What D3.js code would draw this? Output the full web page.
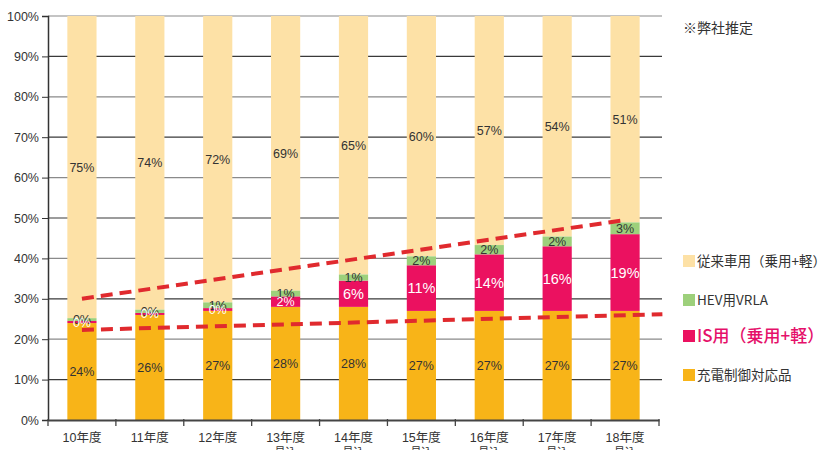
<!DOCTYPE html>
<html><head><meta charset="utf-8">
<script src="https://cdn.jsdelivr.net/npm/d3@7/dist/d3.min.js"></script>
<style>
html,body{margin:0;padding:0;background:#fff;}
svg{display:block;font-family:"Liberation Sans","Noto Sans CJK JP",sans-serif;}
</style></head>
<body><svg id="c" width="827" height="450"></svg>
<script>
const categories = ["10年度","11年度","12年度","13年度","14年度","15年度","16年度","17年度","18年度"];
const subLabels = ["","","","見込","見込","見込","見込","見込","見込"];
const chargeCtrl = [24,26,27,28,28,27,27,27,27];
const isUse = [0.5,0.5,0.7,2.6,6.5,11.3,14,16,19];
const isLabels = ["0%","0%","0%","2%","6%","11%","14%","16%","19%"];
const hevVrla = [0.7,0.8,1.4,1.4,1.5,2.2,2.3,2.4,2.9];
const hevLabels = ["0%","0%","1%","1%","1%","2%","2%","2%","3%"];
const conventional = [75,74,72,69,65,60,57,54,51];
const yTicks = [0,10,20,30,40,50,60,70,80,90,100];
const upperTrend = [[0,30],[8,49.5]];
const lowerTrend = [[0,22.3],[8.55,26.2]];
const seriesNames = ["従来車用（乗用+軽）","HEV用VRLA","IS用（乗用+軽）","充電制御対応品"];
const colors = {conv:"#FDE1A6", hev:"#9DD07B", is:"#EB1160", charge:"#F8B418", trend:"#E02A2E"};

const svg = d3.select("#c");
const x = d3.scaleBand().domain(categories).range([48,659]).paddingInner(0.57).paddingOuter(0.285);
const y = d3.scaleLinear().domain([0,100]).range([420,16]);
const xi = d3.scaleLinear().domain([0,8]).range([x(categories[0])+x.bandwidth()/2, x(categories[8])+x.bandwidth()/2]);

// gridlines
svg.append("g").selectAll("line").data(yTicks.filter(d=>d>0)).join("line")
  .attr("x1",48).attr("x2",662).attr("y1",d=>y(d)).attr("y2",d=>y(d))
  .attr("stroke",d=>(d/10)%2===1?"#3a3a3a":"#8a8a8a").attr("stroke-width",1.2);

// stacked data; conventional fills the remainder up to 100%
const rows = categories.map((c,i)=>{
  const a=chargeCtrl[i], b=isUse[i], h=hevVrla[i];
  return {c,i,
    charge:[0,a], is:[a,a+b], hev:[a+b,a+b+h], conv:[a+b+h, 100]};
});
const segs = [
  {k:"conv", col:colors.conv, lab:(d)=>conventional[d.i]+"%", tc:"#333"},
  {k:"charge", col:colors.charge, lab:(d)=>chargeCtrl[d.i]+"%", tc:"#333"},
  {k:"is", col:colors.is, lab:(d)=>isLabels[d.i], tc:"#fff"},
  {k:"hev", col:colors.hev, lab:(d)=>hevLabels[d.i], tc:"#333"}
];
const gb = svg.append("g");
segs.forEach(s=>{
  gb.selectAll(null).data(rows).join("rect")
    .attr("x",d=>x(d.c)).attr("width",x.bandwidth())
    .attr("y",d=>y(d[s.k][1])).attr("height",d=>y(d[s.k][0])-y(d[s.k][1]))
    .attr("fill",s.col);
});
[segs[0],segs[1],segs[3],segs[2]].forEach(s=>{
  gb.selectAll(null).data(rows).join("text")
    .attr("x",d=>x(d.c)+x.bandwidth()/2)
    .attr("y",d=>y((d[s.k][0]+d[s.k][1])/2))
    .attr("dy","0.36em").attr("text-anchor","middle")
    .attr("font-size",d=> (s.k==="is" && isUse[d.i]>=5) ? 14.5 : 12.5)
    .attr("fill",s.tc).text(s.lab);
});

// trend lines
const line = d3.line().x(d=>xi(d[0])).y(d=>y(d[1]));
[upperTrend, lowerTrend].forEach(t=>{
  svg.append("path").attr("d",line(t)).attr("fill","none")
    .attr("stroke",colors.trend).attr("stroke-width",4).attr("stroke-dasharray","12,7");
});

// y axis
const ya = svg.append("g").attr("transform","translate(48,0)")
  .call(d3.axisLeft(y).tickValues(yTicks).tickFormat(d=>d+"%").tickSize(6).tickPadding(3));
ya.select(".domain").attr("stroke","#333").attr("stroke-width",1.5);
ya.selectAll(".tick line").attr("stroke","#333");
ya.selectAll("text").attr("font-size",12.5).attr("fill","#333").attr("font-family","Liberation Sans, sans-serif");

// x axis
const xa = svg.append("g").attr("transform","translate(0,420)")
  .call(d3.axisBottom(x).tickSize(0).tickFormat(""));
xa.select(".domain").attr("stroke","#444").attr("stroke-width",2);
const bounds = d3.range(categories.length+1).map(i=>48+i*(611/9));
xa.selectAll(".bt").data(bounds).join("line").attr("class","bt")
  .attr("x1",d=>d).attr("x2",d=>d).attr("y1",-1).attr("y2",6).attr("stroke","#444").attr("stroke-width",1.3);
svg.append("g").selectAll("text").data(categories).join("text")
  .attr("x",d=>x(d)+x.bandwidth()/2).attr("y",442).attr("text-anchor","middle")
  .attr("font-size",12.5).attr("fill","#333").text(d=>d);
svg.append("g").selectAll("text").data(categories).join("text")
  .attr("x",d=>x(d)+x.bandwidth()/2).attr("y",456).attr("text-anchor","middle")
  .attr("font-size",11).attr("fill","#333").text((d,i)=>subLabels[i]);

// note
svg.append("text").attr("x",683).attr("y",33).attr("font-size",14).attr("fill","#333")
  .attr("font-family","Noto Sans CJK JP, sans-serif").text("※弊社推定");

// legend
const leg = [
  {n:seriesNames[0], c:colors.conv, y:261, fs:13.5, tc:"#333", fw:400},
  {n:seriesNames[1], c:colors.hev, y:300, fs:13.5, tc:"#333", fw:400},
  {n:seriesNames[2], c:colors.is, y:336, fs:17, tc:"#E5106A", fw:500},
  {n:seriesNames[3], c:colors.charge, y:375, fs:13.5, tc:"#333", fw:400}
];
const lg = svg.append("g");
lg.selectAll("rect").data(leg).join("rect")
  .attr("x",683).attr("y",d=>d.y-6).attr("width",12).attr("height",12).attr("fill",d=>d.c);
lg.selectAll("text").data(leg).join("text")
  .attr("x",697).attr("y",d=>d.y).attr("dy","0.36em")
  .attr("font-size",d=>d.fs).attr("font-weight",d=>d.fw).attr("fill",d=>d.tc)
  .attr("font-family","Noto Sans CJK JP, sans-serif").text(d=>d.n);
</script></body></html>
